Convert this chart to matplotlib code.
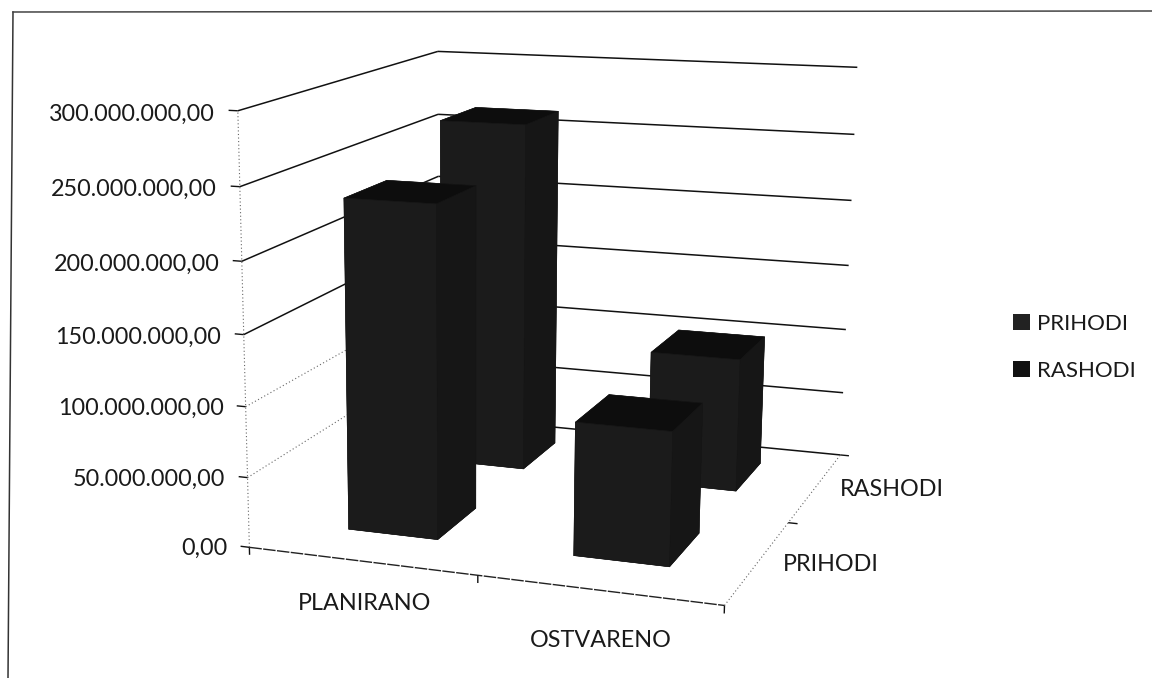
import numpy as np
import matplotlib
matplotlib.use("Agg")
import matplotlib.pyplot as plt
from matplotlib.lines import Line2D
from matplotlib.patches import Patch
from mpl_toolkits.mplot3d.art3d import Line3DCollection

# ---- data
categories = ["PLANIRANO", "OSTVARENO"]
series = ["PRIHODI", "RASHODI"]
prihodi = [236e6, 95e6]
rashodi = [264e6, 101e6]
z_ticks = [0, 50e6, 100e6, 150e6, 200e6, 250e6, 300e6]
z_labels = ["0,00", "50.000.000,00", "100.000.000,00", "150.000.000,00",
            "200.000.000,00", "250.000.000,00", "300.000.000,00"]

W, H = 1152, 678
ZMAX = z_ticks[-1]
plt.rcParams["font.family"] = ["Lato", "DejaVu Sans"]
FS = 16.8
TXT = "#1a1a1a"

fig = plt.figure(figsize=(W / 100, H / 100), dpi=100, facecolor="white")
h = W / H
ax = fig.add_axes([0, (1 - h) / 2, 1, h], projection="3d", computed_zorder=False)
ax.set_axis_off()

# ---- camera: projective fit of the box corners as they appear in the scan
cam_world = np.array([(0, 0, 0), (0, 0, 1), (2, 0, 0), (2, 2, 0), (2, 2, 1),
                      (0, 2, 0), (0, 2, 1), (1, 0, 0), (2, 1, 0)], float)
cam_px = np.array([(248, 544), (238, 113), (724, 607), (840, 452), (857, 69),
                   (440, 429), (438, 48), (480, 575), (790, 522)], float)
cam_wt = [2, 1, 3, 2, 1, 1, 1, 2, 1]
rows, rhs = [], []
for (x, y, z), (u, v), k in zip(cam_world, cam_px, cam_wt):
    rows.append([k * c for c in [x, y, z, 1, 0, 0, 0, 0, -u * x, -u * y, -u * z]]); rhs.append(k * u)
    rows.append([k * c for c in [0, 0, 0, 0, x, y, z, 1, -v * x, -v * y, -v * z]]); rhs.append(k * v)
p = np.linalg.lstsq(np.array(rows), np.array(rhs), rcond=None)[0]
P = np.array([p[:4], p[4:8], [p[8], p[9], p[10], 1.0]])
Zscale = np.diag([1, 1, 1 / ZMAX, 1.0])


def to_px(x, y, z):
    a = P @ np.array([x, y, z / ZMAX, 1.0])
    return a[0] / a[2], a[1] / a[2]


def fitted_proj():
    A = ax.transData.inverted().get_affine().get_matrix()
    U, V, Wt = P
    Dy = H * Wt - V
    X2 = A[0, 0] * U + A[0, 1] * Dy + A[0, 2] * Wt
    Y2 = A[1, 0] * U + A[1, 1] * Dy + A[1, 2] * Wt
    Z2 = np.array([-0.3, 1.0, -0.3, 0.5])
    return np.vstack([X2, Y2, Z2, Wt]) @ Zscale


ax.get_proj = fitted_proj
ax.set_xlim(0, 2)
ax.set_ylim(0, 2)
ax.set_zlim(0, ZMAX)


def label(x, y, z, s, **kw):
    u, v = to_px(x, y, z)
    fig.text(u / W, 1 - v / H, s, va="center", fontsize=FS, color=TXT, **kw)


def seg(p0, p1, color="#111111", lw=1.1, ls="solid"):
    ax.add_collection3d(Line3DCollection([[p0, p1]], colors=color, linewidths=lw,
                                         linestyles=ls, zorder=2), autolim=False)


# ---- walls and floor
DOT = dict(color="#666666", lw=0.8, ls=(0, (1, 2.2)))
for val, txt in zip(z_ticks, z_labels):
    seg((0, 2, val), (2, 2, val))
    if val >= 150e6:
        seg((0, 0, val), (0, 2, val))
    elif val > 0:
        seg((0, 0, val), (0, 2, val), **DOT)
    seg((-0.04, 0, val), (0, 0, val), lw=1.0)
    label(-0.1, 0, val - 0.01 * ZMAX, txt, ha="right")
seg((0, 0, 0), (0, 0, ZMAX), **DOT)
seg((0, 0, 0), (2, 0, 0), color="#222222", lw=1.0, ls=(0, (9, 1)))
seg((2, 0, 0), (2, 2, 0), **DOT)
for xt in range(3):
    seg((xt, 0, 0), (xt, 0, -0.018 * ZMAX), lw=1.0)
for yt in (1, 2):
    seg((2, yt, 0), (2.04, yt, 0), lw=1.0)

# ---- bars
BAR_X = 0.40
BAR_Y = 0.42
BASE = 1.5e6
cat_pos = [0.5, 1.49]
face_cols = ["#0d0d0d", "#0d0d0d", "#1b1b1b", "#0d0d0d", "#0d0d0d", "#161616"]
columns = [rashodi, prihodi]
row_pos = [1, 0]
z = 20
for vals, ypos in zip(columns, row_pos):
    for xc, val in zip(cat_pos, vals):
        ax.bar3d(xc - BAR_X / 2, ypos + 0.5 - BAR_Y / 2 + 0.02, BASE, BAR_X, BAR_Y, val - BASE,
                 color=face_cols, shade=False, edgecolor="#161616", linewidth=0.4, zorder=z)
        z += 1

# ---- axis labels
label(0.51, 0, -0.1 * ZMAX, categories[0], ha="center")
label(1.51, 0, -0.115 * ZMAX, categories[1], ha="center")
label(2.10, 0.5, 0, series[0], ha="left")
label(2.11, 1.5, 0, series[1], ha="left")

# ---- legend
handles = [Patch(facecolor="#222222", edgecolor="none"), Patch(facecolor="#111111", edgecolor="none")]
fig.legend(handles, series, loc="upper left", bbox_to_anchor=(1013 / W, 1 - 314 / H),
           frameon=False, fontsize=16, labelcolor=TXT, handlelength=0.75, handleheight=0.7,
           handletextpad=0.35, labelspacing=1.2, borderpad=0, borderaxespad=0)

# ---- scanned outer frame
fig.add_artist(Line2D([13 / W, 8 / W], [1 - 12 / H, 0], color="#333333", lw=1.1))
fig.add_artist(Line2D([13 / W, 1], [1 - 12 / H, 1 - 11 / H], color="#444444", lw=1.1))

fig.savefig("out.png", dpi=100)
